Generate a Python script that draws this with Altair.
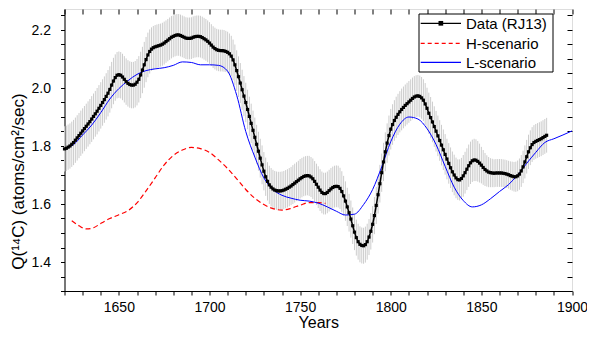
import altair as alt
import pandas as pd

# ---------------- data ----------------
years = list(range(1620, 1887))
data_values = [
    1.790, 1.792, 1.796, 1.800, 1.806, 1.812, 1.820, 1.828, 1.836, 1.844,
    1.852, 1.860, 1.868, 1.876, 1.884, 1.893, 1.902, 1.911, 1.920, 1.930,
    1.940, 1.950, 1.960, 1.971, 1.982, 1.995, 2.010, 2.024, 2.036, 2.044,
    2.046, 2.044, 2.038, 2.030, 2.022, 2.016, 2.012, 2.010, 2.010, 2.013,
    2.020, 2.030, 2.045, 2.062, 2.080, 2.098, 2.114, 2.126, 2.134, 2.139,
    2.142, 2.144, 2.146, 2.148, 2.151, 2.155, 2.160, 2.165, 2.170, 2.175,
    2.178, 2.181, 2.183, 2.183, 2.181, 2.178, 2.175, 2.172, 2.171, 2.171,
    2.172, 2.175, 2.177, 2.178, 2.178, 2.177, 2.174, 2.170, 2.166, 2.161,
    2.155, 2.148, 2.141, 2.136, 2.132, 2.130, 2.129, 2.129, 2.128, 2.126,
    2.123, 2.118, 2.110, 2.097, 2.080, 2.060, 2.039, 2.017, 1.994, 1.972,
    1.950, 1.926, 1.902, 1.878, 1.854, 1.830, 1.806, 1.782, 1.758, 1.735,
    1.713, 1.694, 1.678, 1.666, 1.658, 1.652, 1.648, 1.646, 1.645, 1.645,
    1.646, 1.648, 1.651, 1.654, 1.658, 1.662, 1.667, 1.672, 1.677, 1.682,
    1.687, 1.691, 1.695, 1.697, 1.698, 1.697, 1.693, 1.687, 1.678, 1.668,
    1.658, 1.648, 1.640, 1.636, 1.636, 1.640, 1.646, 1.652, 1.657, 1.660,
    1.661, 1.660, 1.654, 1.643, 1.628, 1.610, 1.590, 1.570, 1.548, 1.525,
    1.503, 1.484, 1.470, 1.461, 1.457, 1.456, 1.460, 1.470, 1.486, 1.506,
    1.530, 1.560, 1.595, 1.632, 1.670, 1.708, 1.745, 1.780, 1.810, 1.836,
    1.858, 1.874, 1.888, 1.899, 1.909, 1.918, 1.926, 1.933, 1.940, 1.946,
    1.952, 1.958, 1.964, 1.969, 1.972, 1.973, 1.971, 1.966, 1.958, 1.945,
    1.930, 1.913, 1.898, 1.883, 1.867, 1.851, 1.835, 1.819, 1.803, 1.787,
    1.771, 1.755, 1.740, 1.725, 1.711, 1.700, 1.690, 1.684, 1.683, 1.688,
    1.697, 1.708, 1.720, 1.732, 1.742, 1.749, 1.752, 1.751, 1.747, 1.741,
    1.734, 1.726, 1.719, 1.714, 1.710, 1.708, 1.707, 1.706, 1.707, 1.707,
    1.707, 1.707, 1.706, 1.705, 1.703, 1.701, 1.698, 1.696, 1.694, 1.694,
    1.697, 1.703, 1.714, 1.728, 1.745, 1.763, 1.780, 1.794, 1.805, 1.812,
    1.816, 1.819, 1.822, 1.825, 1.829, 1.833, 1.837,
]
data_errors = [
    0.078, 0.078, 0.078, 0.078, 0.078, 0.078, 0.078, 0.078, 0.078, 0.078,
    0.078, 0.078, 0.078, 0.078, 0.078, 0.079, 0.079, 0.079, 0.080, 0.080,
    0.080, 0.080, 0.080, 0.080, 0.080, 0.080, 0.080, 0.080, 0.080, 0.080,
    0.080, 0.080, 0.080, 0.080, 0.080, 0.080, 0.080, 0.080, 0.080, 0.080,
    0.080, 0.080, 0.080, 0.080, 0.079, 0.078, 0.077, 0.076, 0.075, 0.075,
    0.075, 0.075, 0.075, 0.074, 0.074, 0.074, 0.073, 0.073, 0.073, 0.073,
    0.072, 0.072, 0.072, 0.072, 0.072, 0.072, 0.072, 0.072, 0.072, 0.072,
    0.072, 0.072, 0.072, 0.072, 0.072, 0.072, 0.072, 0.072, 0.072, 0.072,
    0.072, 0.072, 0.072, 0.072, 0.072, 0.072, 0.072, 0.072, 0.072, 0.071,
    0.071, 0.070, 0.070, 0.070, 0.070, 0.070, 0.070, 0.069, 0.069, 0.069,
    0.068, 0.068, 0.068, 0.068, 0.068, 0.068, 0.067, 0.067, 0.067, 0.067,
    0.066, 0.066, 0.066, 0.066, 0.066, 0.066, 0.066, 0.066, 0.066, 0.066,
    0.066, 0.066, 0.066, 0.066, 0.066, 0.066, 0.067, 0.067, 0.067, 0.067,
    0.068, 0.068, 0.068, 0.068, 0.068, 0.069, 0.069, 0.070, 0.070, 0.071,
    0.072, 0.072, 0.072, 0.072, 0.072, 0.072, 0.072, 0.072, 0.072, 0.072,
    0.072, 0.072, 0.071, 0.070, 0.069, 0.068, 0.066, 0.065, 0.064, 0.063,
    0.062, 0.062, 0.062, 0.062, 0.062, 0.062, 0.062, 0.062, 0.062, 0.063,
    0.063, 0.064, 0.064, 0.065, 0.065, 0.066, 0.066, 0.067, 0.068, 0.069,
    0.070, 0.070, 0.070, 0.071, 0.071, 0.071, 0.072, 0.072, 0.072, 0.072,
    0.072, 0.072, 0.072, 0.072, 0.072, 0.072, 0.072, 0.072, 0.072, 0.072,
    0.071, 0.071, 0.071, 0.070, 0.070, 0.070, 0.070, 0.070, 0.070, 0.070,
    0.070, 0.070, 0.070, 0.070, 0.070, 0.070, 0.070, 0.070, 0.071, 0.071,
    0.072, 0.072, 0.072, 0.073, 0.073, 0.073, 0.073, 0.072, 0.070, 0.067,
    0.063, 0.060, 0.057, 0.054, 0.052, 0.050, 0.049, 0.048, 0.048, 0.048,
    0.048, 0.048, 0.048, 0.048, 0.048, 0.048, 0.049, 0.050, 0.051, 0.052,
    0.053, 0.054, 0.055, 0.056, 0.057, 0.058, 0.059, 0.060, 0.060, 0.060,
    0.060, 0.060, 0.060, 0.060, 0.060, 0.060, 0.060,
]

l_years = list(range(1620, 1901, 5))
l_values = [
    1.790, 1.805, 1.838, 1.872, 1.915, 1.962, 1.998, 2.025, 2.047, 2.060,
    2.066, 2.070, 2.078, 2.090, 2.088, 2.080, 2.080, 2.078, 2.058, 1.975,
    1.850, 1.762, 1.690, 1.650, 1.630, 1.620, 1.613, 1.610, 1.603, 1.590,
    1.575, 1.562, 1.565, 1.598, 1.650, 1.728, 1.815, 1.875, 1.900, 1.893,
    1.860, 1.805, 1.730, 1.658, 1.612, 1.590, 1.597, 1.618, 1.643, 1.667,
    1.700, 1.740, 1.778, 1.812, 1.825, 1.838, 1.852,
]

h_years = [1624, 1628, 1632, 1636, 1640, 1645, 1650, 1655, 1660, 1665,
           1670, 1675, 1680, 1685, 1690, 1695, 1700, 1705, 1710, 1715,
           1720, 1725, 1730, 1735, 1740, 1745, 1750, 1755, 1760, 1764]
h_values = [1.542, 1.525, 1.514, 1.518, 1.533, 1.550, 1.563, 1.577, 1.604, 1.645,
            1.690, 1.735, 1.767, 1.786, 1.795, 1.791, 1.778, 1.752, 1.722, 1.687,
            1.650, 1.620, 1.598, 1.584, 1.579, 1.585, 1.596, 1.605, 1.605, 1.602]

x_ticks = list(range(1620, 1901, 10))
y_ticks = [1.30, 1.35, 1.40, 1.45, 1.50, 1.55, 1.60, 1.65, 1.70, 1.75,
           1.80, 1.85, 1.90, 1.95, 2.00, 2.05, 2.10, 2.15, 2.20, 2.25]
legend_labels = ["Data (RJ13)", "H-scenario", "L-scenario"]

# ---------------- frames ----------------
df = pd.DataFrame({"year": years, "value": data_values, "err": data_errors})
df["lo"] = df["value"] - df["err"]
df["hi"] = df["value"] + df["err"]
ldf = pd.DataFrame({"year": l_years, "value": l_values})
hdf = pd.DataFrame({"year": h_years, "value": h_values})

FONT = "Liberation Sans"
W, H = 507.5, 282
xscale = alt.Scale(domain=[1620, 1900], nice=False, zero=False)
yscale = alt.Scale(domain=[1.3, 1.3 + H / 290.0], nice=False, zero=False)

x_axis = alt.Axis(values=x_ticks, format="d",
                  labelExpr="datum.value % 50 == 0 ? datum.label : ''",
                  tickSize=4, labelPadding=5, labelFontSize=14, labelFlush=False,
                  labelOverlap=False, grid=False, domainColor="black",
                  tickColor="black", labelColor="black", title="Years",
                  titleFontSize=16, titleFontWeight="normal", titleColor="black",
                  titleBaseline="alphabetic", titleY=36)
y_axis = alt.Axis(values=y_ticks,
                  labelExpr="abs(datum.value*5 - round(datum.value*5)) < 0.001 ? format(datum.value, '.1f') : ''",
                  tickSize=4, labelPadding=10, labelFontSize=14, labelFlush=False,
                  labelOverlap=False, grid=False, domainColor="black",
                  tickColor="black", labelColor="black",
                  title="Q(\u00b9\u2074C)  (atoms/cm\u00b2/sec)",
                  titleFontSize=17, titleFontWeight="normal", titleColor="black",
                  titleBaseline="alphabetic", titleX=-41, titleY=172)
x_top = alt.Axis(orient="top", values=x_ticks, labels=False, domain=False,
                 tickSize=5, offset=-5, grid=False, title=None, tickColor="black")
y_right = alt.Axis(orient="right", values=y_ticks, labels=False, domain=False,
                   tickSize=5, offset=-5, grid=False, title=None, tickColor="black")

bars = alt.Chart(df).mark_rule(color="#cccccc", strokeWidth=1).encode(
    x=alt.X("year:Q", scale=xscale, axis=x_axis),
    y=alt.Y("lo:Q", scale=yscale, axis=y_axis),
    y2="hi:Q",
)

red = alt.Chart(hdf).mark_line(color="#ff0000", strokeWidth=1.2,
                               strokeDash=[5, 3], interpolate="monotone").encode(
    x=alt.X("year:Q", scale=xscale, axis=x_top),
    y=alt.Y("value:Q", scale=yscale, axis=y_right),
)

blue = alt.Chart(ldf).mark_line(color="#0000ff", strokeWidth=1,
                                interpolate="monotone").encode(
    x=alt.X("year:Q", scale=xscale, axis=None),
    y=alt.Y("value:Q", scale=yscale, axis=None),
)

black_line = alt.Chart(df).mark_line(color="black", strokeWidth=1.5).encode(
    x=alt.X("year:Q", scale=xscale, axis=None),
    y=alt.Y("value:Q", scale=yscale, axis=None),
)
black_pts = alt.Chart(df).mark_point(shape="square", filled=True, color="black",
                                     size=10, opacity=1).encode(
    x=alt.X("year:Q", scale=xscale, axis=None),
    y=alt.Y("value:Q", scale=yscale, axis=None),
)

# ---------------- legend (drawn by hand) ----------------
lx0, lx1 = 354.5, 488.5
ly0, ly1 = 5, 63
row_y = [14.3, 34.3, 53.3]
line_x0, line_x1, text_x = 356.2, 396.5, 401.5
colors = ["black", "#ff0000", "#0000ff"]
dashes = [[1, 0], [4, 3], [1, 0]]

box = alt.Chart(pd.DataFrame({"label": ["box"]})).mark_rect(
    fill="white", stroke="black", strokeWidth=1).encode(
    x=alt.value(lx0), x2=alt.value(lx1), y=alt.value(ly0), y2=alt.value(ly1))

legend_layers = [box]
for i, lab in enumerate(legend_labels):
    ldata = pd.DataFrame({"label": [lab]})
    legend_layers.append(
        alt.Chart(ldata).mark_rule(color=colors[i], strokeWidth=1.2,
                                   strokeDash=dashes[i]).encode(
            x=alt.value(line_x0), x2=alt.value(line_x1), y=alt.value(row_y[i])))
    legend_layers.append(
        alt.Chart(ldata).mark_text(align="left", baseline="middle", font=FONT,
                                   fontSize=15, color="black").encode(
            x=alt.value(text_x), y=alt.value(row_y[i] + 0.5), text="label:N"))
legend_layers.append(
    alt.Chart(pd.DataFrame({"label": [legend_labels[0]]})).mark_point(
        shape="square", filled=True, color="black", size=22, opacity=1).encode(
        x=alt.value((line_x0 + line_x1) / 2), y=alt.value(row_y[0])))

chart = alt.layer(bars, red, blue, black_line, black_pts, *legend_layers).resolve_axis(
    x="independent", y="independent"
).properties(
    width=W, height=H,
    autosize=alt.AutoSizeParams(type="none"),
    padding={"left": 56.5, "top": 1, "right": 15, "bottom": 38},
).configure_view(
    stroke="black", strokeWidth=1
).configure(
    font=FONT, background="white"
)

chart.save("out.html", embed_options={"renderer": "svg", "actions": False})
